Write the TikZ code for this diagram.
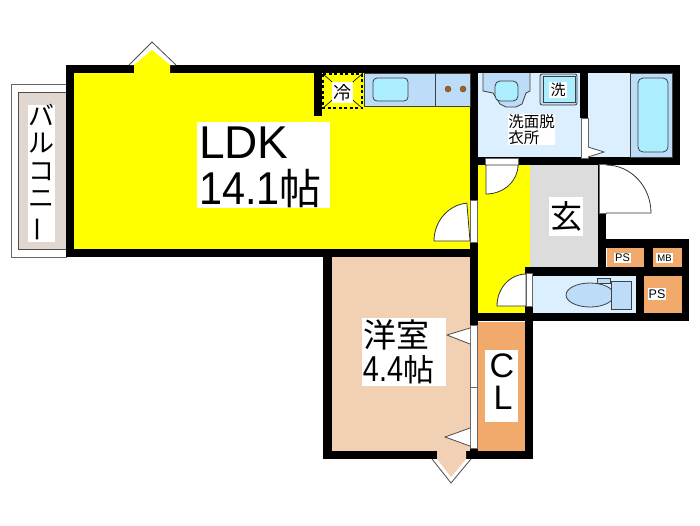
\documentclass[tikz,border=0pt]{standalone}
\usepackage{fontspec}
\setmainfont{Liberation Sans}
\newfontfamily\jpfont{Noto Sans CJK JP}
\usepackage{xcolor}
\definecolor{floorblue}{HTML}{DCEFFF}
\definecolor{fitblue}{HTML}{BCDCF8}
\definecolor{tubcyan}{HTML}{ABEEFF}
\definecolor{floorpeach}{HTML}{F2D0B4}
\definecolor{closetorange}{HTML}{F2A96C}
\definecolor{balconygray}{HTML}{E0D8D0}
\definecolor{hallgray}{HTML}{DCDCDC}
\definecolor{ldkyellow}{RGB}{255,255,0}
\definecolor{burnerbrown}{HTML}{B05A10}
\tikzset{
  wall/.style={fill=black},
  fitting/.style={draw=black!75, line width=0.8pt},
  doorleaf/.style={draw=black!80, fill=white, line width=0.8pt},
  sash/.style={draw=black!70, fill=white, line width=0.8pt},
  gapline/.style={draw=black!60, line width=0.6pt, fill=white},
  fridgeline/.style={black, line width=1.2pt, dash pattern=on 3pt off 2.5pt},
  tag/.style={fill=white, inner sep=0pt, align=center, text=black},
}
\begin{document}
\begin{tikzpicture}[x=1pt,y=-1pt]
\useasboundingbox (0,0) rectangle (700,525);

% balcony
\draw[draw=black!60, fill=white, line width=0.8pt] (11,84) rectangle (66,257);
\draw[draw=black!70, fill=balconygray, line width=0.8pt] (18,92) rectangle (66,249);

% floors
\fill[ldkyellow] (74,73) rectangle (470,249);
\fill[floorblue] (478,73) rectangle (672,157);
\fill[ldkyellow] (478,165) rectangle (530,313);
\fill[hallgray] (530,165) rectangle (598,267);
\fill[floorblue] (533,276) rectangle (636,313);
\fill[floorpeach] (332,257) rectangle (470,451);
\fill[closetorange] (478,322) rectangle (525,451);
\fill[closetorange] (607,248) rectangle (644,267);
\fill[closetorange] (653,248) rectangle (682,267);
\fill[closetorange] (644,276) rectangle (682,313);

% walls
\fill[wall] (66,65) rectangle (680,73);
\fill[wall] (66,65) rectangle (74,257);
\fill[wall] (66,249) rectangle (478,257);
\fill[wall] (470,65) rectangle (478,321);
\fill[wall] (314,73) rectangle (322,116);
\fill[wall] (580,73) rectangle (588,118);
\fill[wall] (672,65) rectangle (680,165);
\fill[wall] (478,157) rectangle (680,165);
\fill[wall] (598,165) rectangle (606,267);
\fill[wall] (606,239) rectangle (689,248);
\fill[wall] (682,239) rectangle (689,321);
\fill[wall] (644,248) rectangle (653,267);
\fill[wall] (525,267) rectangle (689,276);
\fill[wall] (636,276) rectangle (644,313);
\fill[wall] (470,313) rectangle (689,321);
\fill[wall] (525,267) rectangle (533,459);
\fill[wall] (323,249) rectangle (332,459);
\fill[wall] (323,451) rectangle (533,459);
\fill[wall] (470,321) rectangle (478,459);

% windows
\draw[sash] (129,65)--(152,42)--(176,65);
\fill[ldkyellow] (134,73)--(134,65)--(152,50)--(170,65)--(170,73)--cycle;
\draw[sash] (432,459)--(451,483)--(471,459);
\fill[floorpeach] (437,451)--(437,459)--(451,477)--(466,459)--(466,451)--cycle;

% kitchen
\draw[fitting, fill=fitblue] (364,73) rectangle (470,106);
\draw[fitting] (435,73)--(435,106);
\draw[fitting, fill=tubcyan, rounded corners=4pt] (373,78) rectangle (408,101);
\draw[draw=black!70, fill=burnerbrown] (448,89) circle [radius=3];
\draw[draw=black!70, fill=burnerbrown] (463,89) circle [radius=3];
\draw[fridgeline] (323,74) rectangle (362,108);
\draw[black, line width=0.6pt] (323,74)--(362,108) (362,74)--(323,108);

% wash room
\draw[fitting, fill=fitblue] (483,73)--(483,91)--(493,93)--(500,104)--(506,107)--(516,107)--(522,104)--(526,93)--(530,91)--(530,73);
\draw[fitting, fill=tubcyan, rounded corners=5pt] (495,81) rectangle (518,101);
\draw[fitting, fill=fitblue, rounded corners=2pt] (540,74) rectangle (577,105);
\draw[fitting, fill=tubcyan] (543,76) rectangle (575,102);

% bath
\draw[fitting, fill=fitblue] (630,73) rectangle (672,157);
\draw[fitting, fill=tubcyan, rounded corners=5pt] (638,78) rectangle (668,152);
\draw[gapline] (581,118) rectangle (588,158);
\draw[sash] (588,147)--(604,152)--(588,157);

% toilet
\draw[fitting, fill=fitblue] (597,278) rectangle (610,283);
\draw[fitting, fill=fitblue] (590,295) ellipse [x radius=24, y radius=12];
\draw[fitting, fill=fitblue] (611,281) rectangle (631,309);

% doors
\draw[gapline] (470,200) rectangle (477,242);
\draw[doorleaf] (470,241)--(434,241) arc[start angle=180, end angle=95, x radius=36, y radius=-38]--cycle;
\draw[gapline] (485,158) rectangle (518,165);
\draw[doorleaf] (486,165)--(486,194) arc[start angle=-90, end angle=0, x radius=32, y radius=-29]--cycle;
\draw[gapline] (599,164) rectangle (606,213);
\draw[doorleaf] (606,165) arc[start angle=90, end angle=0, x radius=45, y radius=-48]--(606,213);
\draw[gapline] (526,273) rectangle (532,306);
\draw[doorleaf] (526,306)--(497,306) arc[start angle=180, end angle=90, x radius=29, y radius=-32]--cycle;
\draw[gapline] (470,325) rectangle (477,448);
\draw[gapline] (470,387)--(477,387);
\draw[sash] (470,328)--(447,335)--(470,344);
\draw[sash] (470,428)--(445,437)--(470,446);

% labels
\node[tag, minimum width=133pt, minimum height=86pt, anchor=north west] (ldklabel) at (197,122) {};
\node[anchor=west, inner sep=0pt, font=\fontsize{46}{48}\selectfont] (ldkname) at (199,143) {LDK};
\node[anchor=west, inner sep=0pt, font=\fontsize{46}{48}\selectfont] (ldksize) at (199,189) {\scalebox{0.9}[1]{14.1}{\jpfont\fontsize{42}{48}\selectfont 帖}};
\node[tag, font=\jpfont\fontsize{18}{18}\selectfont, minimum width=21pt, minimum height=21pt] (fridgelabel) at (342.5,92.5) {冷};
\node[tag, font=\jpfont\fontsize{15}{15}\selectfont, minimum width=18pt, minimum height=16pt] (washerlabel) at (558,90) {洗};
\node[tag, font=\jpfont\fontsize{15.5}{15.5}\selectfont, minimum width=47pt, minimum height=31pt, align=left] (washlabel) at (531.5,129.5) {洗面脱\\衣所};
\node[tag, font=\jpfont\fontsize{32}{32}\selectfont, minimum width=34pt, minimum height=39pt] (halllabel) at (566,216.5) {玄};
\node[tag, font=\fontsize{11}{11}\selectfont, minimum width=17pt, minimum height=10pt] (pslabela) at (622.5,258) {PS};
\node[tag, font=\fontsize{9.5}{10}\selectfont, minimum width=17pt, minimum height=10pt] (mblabel) at (664.5,258) {MB};
\node[tag, font=\fontsize{12.5}{12}\selectfont, minimum width=18pt, minimum height=12pt] (pslabelb) at (657,294) {PS};
\node[tag, minimum width=84pt, minimum height=68pt] (roomlabel) at (404,352) {};
\node[inner sep=0pt, font=\jpfont\fontsize{33}{33}\selectfont] (roomname) at (396,335) {洋室};
\node[inner sep=0pt, font=\fontsize{36}{36}\selectfont] (roomsize) at (398.5,370) {\scalebox{0.8}[1]{4.4}{\jpfont\fontsize{31}{31}\selectfont 帖}};
\node[tag, minimum width=33pt, minimum height=72pt] (closetlabel) at (501.5,386) {};
\node[inner sep=0pt, font=\fontsize{34}{34}\selectfont] (closetc) at (502,366) {C};
\node[inner sep=0pt, font=\fontsize{34}{34}\selectfont] (closetl) at (503,398) {L};
\node[tag, minimum width=27pt, minimum height=137pt] (balconylabel) at (41.5,173.5) {};
\node[inner sep=0pt, font=\jpfont\fontsize{26}{27.5}\selectfont, align=center] (balconyname) at (41.5,173.5) {バ\\ル\\コ\\ニ\\\rotatebox[origin=c]{90}{ー}};
\end{tikzpicture}
\end{document}
